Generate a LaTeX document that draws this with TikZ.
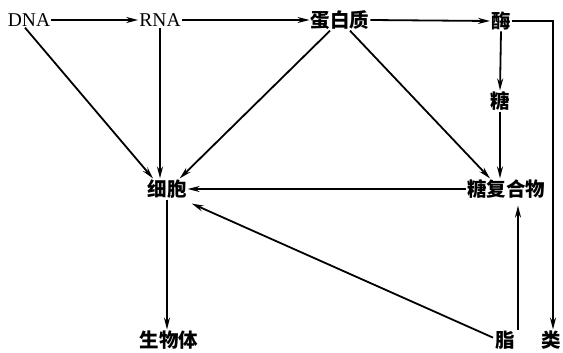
\documentclass[tikz,border=0pt]{standalone}
\usepackage{fontspec}
\setmainfont{Liberation Serif}
\newfontfamily\cjk{Noto Sans CJK SC}
\usetikzlibrary{arrows.meta}
\begin{document}
\begin{tikzpicture}[x=1pt,y=-1pt,
  lbl/.style={inner sep=1pt,font=\cjk\bfseries\fontsize{19.5}{21}\selectfont},
  lat/.style={inner sep=1pt,font=\fontsize{19.5}{21}\selectfont},
  conn/.style={line width=1.8pt,-{Stealth[length=12pt,width=6pt]}}]
\useasboundingbox (0,0) rectangle (563,353);
\node[lat] (dna) at (29,20) {DNA};
\node[lat] (rna) at (160,20) {RNA};
\node[lbl] (prot) at (340,20) {蛋白质};
\node[lbl] (enz) at (501,21) {酶};
\node[lbl] (sugar) at (500,101) {糖};
\node[lbl] (cell) at (167,189) {细胞};
\node[lbl] (glyco) at (506,189) {糖复合物};
\node[lbl] (org) at (169,340) {生物体};
\node[lbl] (lip) at (505,340) {脂};
\node[lbl] (lei) at (551,340) {类};
\coordinate (lipup) at ([xshift=13pt]lip.north);
\draw[conn] (dna.east) -- (rna.west);
\draw[conn] (rna.east) -- (prot.west);
\draw[conn] (prot.east) -- (enz.west);
\draw[conn] (enz.east) -| ([xshift=2pt]lei.north);
\draw[conn] (enz.south) -- (sugar.north);
\draw[conn] (sugar.south) -- (sugar.south |- glyco.north);
\draw[conn] ([xshift=10pt]prot.south) -- ([xshift=-16pt]glyco.north);
\draw[conn] ([xshift=-10pt]prot.south) -- ([xshift=-8pt]cell.north east);
\draw[conn] ([xshift=-4pt]dna.south) -- ([xshift=-14pt]cell.north);
\draw[conn] (rna.south) -- (rna.south |- cell.north);
\draw[conn] (glyco.west) -- (cell.east);
\draw[conn] ([xshift=-12pt,yshift=-8pt]lip.north) -- ([xshift=4pt,yshift=-4pt]cell.south east);
\draw[conn] (lipup) -- ([yshift=-6pt]lipup |- glyco.south);
\draw[conn] (cell.south) -- (org.north -| cell.south);
\end{tikzpicture}
\end{document}
